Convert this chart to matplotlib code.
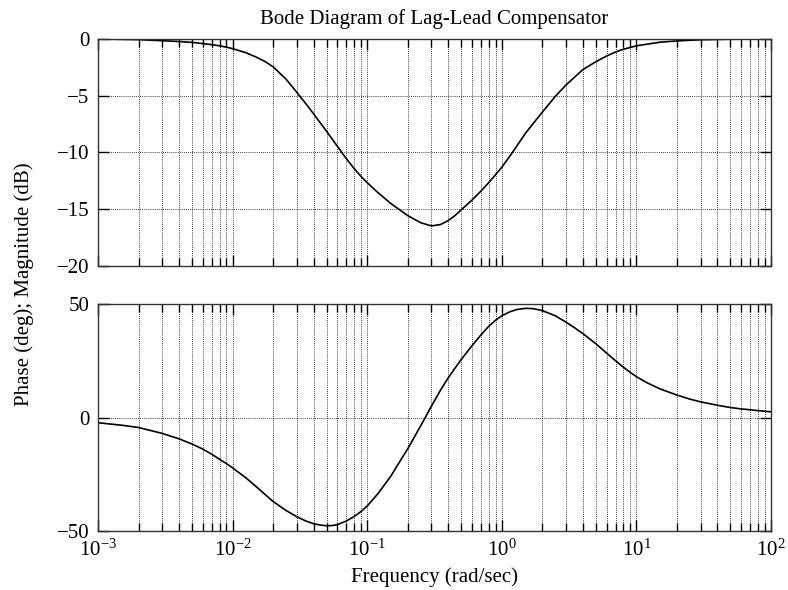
import numpy as np
import matplotlib
matplotlib.use("Agg")
import matplotlib.pyplot as plt
from matplotlib.ticker import LogLocator, NullFormatter, FixedLocator

plt.rcParams['font.family'] = ['Liberation Serif', 'DejaVu Serif']
plt.rcParams['mathtext.fontset'] = 'custom'
plt.rcParams['mathtext.rm'] = 'Liberation Serif'
plt.rcParams['mathtext.it'] = 'Liberation Serif:italic'
plt.rcParams['font.size'] = 15

# values
freq_mag = [0.001, 0.002, 0.003, 0.004, 0.005, 0.006, 0.007, 0.008, 0.009, 0.01,
            0.0125, 0.015, 0.0175, 0.02, 0.025, 0.03, 0.035, 0.04, 0.05, 0.06,
            0.07, 0.08, 0.09, 0.1, 0.12, 0.15, 0.2, 0.25, 0.3, 0.35, 0.4, 0.45,
            0.5, 0.6, 0.7, 0.8, 0.9, 1.0, 1.2, 1.5, 1.75, 2, 2.5, 3, 4, 5, 6, 7,
            8, 9, 10, 15, 20, 30, 50, 100]
mag_db = [0.0, -0.06, -0.15, -0.22, -0.3, -0.4, -0.5, -0.6, -0.72, -0.85,
          -1.2, -1.6, -2.0, -2.45, -3.55, -4.7, -5.7, -6.6, -8.15, -9.45,
          -10.55, -11.42, -12.11, -12.66, -13.53, -14.5, -15.56, -16.19, -16.47, -16.35, -16.0, -15.55,
          -15.05, -14.2, -13.4, -12.65, -11.95, -11.3, -10.0, -8.3, -7.3, -6.45, -5.05, -4.05, -2.7, -2.0, -1.5, -1.15,
          -0.9, -0.75, -0.6, -0.28, -0.17, -0.07, -0.02, 0.0]

freq_ph = [0.001, 0.0015, 0.002, 0.003, 0.004, 0.005, 0.006, 0.007, 0.008, 0.009,
           0.01, 0.0125, 0.015, 0.0175, 0.02, 0.025, 0.03, 0.035, 0.04, 0.045,
           0.05, 0.055, 0.06, 0.07, 0.08, 0.09, 0.1, 0.12, 0.15, 0.175,
           0.2, 0.25, 0.27, 0.3, 0.35, 0.4, 0.45, 0.5, 0.6, 0.7,
           0.8, 0.9, 1.0, 1.15, 1.3, 1.5, 1.7, 2, 2.5, 3,
           3.5, 4, 5, 6, 7, 8, 9, 10, 12, 15,
           20, 25, 30, 40, 50, 60, 70, 80, 100]
phase_deg = [-2.3, -3.4, -4.4, -7.0, -9.4, -11.7, -13.9, -16.2, -18.4, -20.3,
             -22.2, -26.5, -30.5, -34.0, -37.0, -41.0, -43.7, -45.6, -46.8, -47.4,
             -47.7, -47.6, -47.2, -45.6, -43.6, -41.4, -39.0, -33.6, -25.8, -19.3,
             -13.8, -3.6, 0.0, 5.0, 12.0, 17.5, 21.8, 25.6, 31.6, 36.4,
             40.2, 42.9, 44.8, 46.6, 47.6, 48.1, 48.0, 47.1, 44.8, 42.0,
             39.4, 37.0, 32.5, 28.4, 25.0, 22.2, 19.9, 18.0, 15.3, 12.6,
             9.9, 8.1, 6.9, 5.4, 4.4, 3.8, 3.4, 3.05, 2.5]

mag_ticks = [-20, -15, -10, -5, 0]
phase_ticks = [-50, 0, 50]

fig = plt.figure(figsize=(7.88, 5.90), dpi=100)
ax1 = fig.add_axes([0.1244, 0.5492, 0.854, 0.3847])
ax2 = fig.add_axes([0.1244, 0.1, 0.854, 0.3847])


def style(ax, yticks):
    ax.set_xscale('log')
    ax.set_xlim(1e-3, 1e2)
    ax.set_ylim(yticks[0], yticks[-1])
    ax.yaxis.set_major_locator(FixedLocator(yticks))
    ax.xaxis.set_major_locator(LogLocator(base=10, numticks=10))
    ax.xaxis.set_minor_locator(LogLocator(base=10, subs=np.arange(2, 10), numticks=20))
    ax.xaxis.set_minor_formatter(NullFormatter())
    ax.tick_params(which='both', direction='in', top=True, right=True, width=1.0)
    ax.tick_params(which='major', length=8, pad=6)
    ax.tick_params(which='minor', length=6)
    ax.grid(True, which='both', axis='x', color='black', linestyle=(0, (1, 1.5)), linewidth=0.6)
    ax.grid(True, which='major', axis='y', color='black', linestyle=(0, (1, 1.5)), linewidth=0.6)
    for s in ax.spines.values():
        s.set_linewidth(1.0)
        s.set_color('#333333')


style(ax1, mag_ticks)
style(ax2, phase_ticks)
ax1.set_yticklabels(['\u221220', '\u221215', '\u221210', '\u22125', '0'])
ax2.set_yticklabels(['\u221250', '0', '50'])
ax1.xaxis.set_major_formatter(NullFormatter())

ax1.plot(freq_mag, mag_db, color='black', linewidth=1.2)
ax2.plot(freq_ph, phase_deg, color='black', linewidth=1.2)

ax1.set_title('Bode Diagram of Lag-Lead Compensator', fontsize=15, pad=11)
fig.text(0.03, 0.519, 'Phase (deg); Magnitude (dB)', rotation=90, ha='center', va='center')
fig.text(0.5514, 0.022, 'Frequency (rad/sec)', ha='center', va='center')

fig.savefig('out.png', dpi=100)
